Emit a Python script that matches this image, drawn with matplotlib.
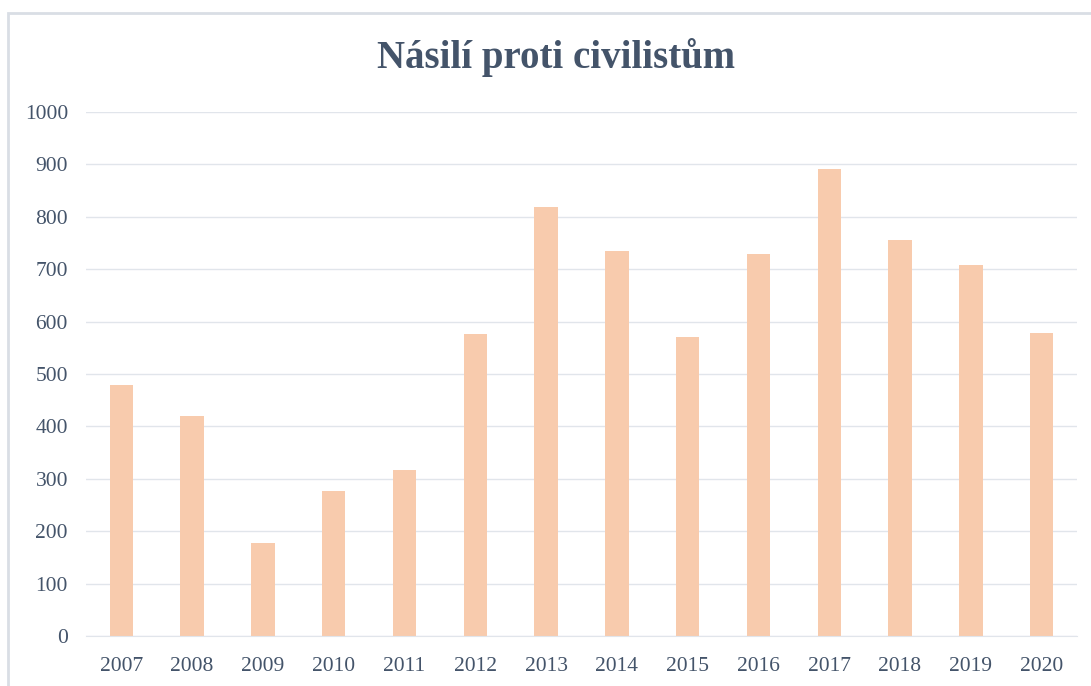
import matplotlib
matplotlib.use("Agg")
import matplotlib.pyplot as plt
from matplotlib.patches import Rectangle

years = ['2007', '2008', '2009', '2010', '2011', '2012', '2013',
         '2014', '2015', '2016', '2017', '2018', '2019', '2020']
values = [479, 420, 177, 277, 317, 576, 819, 735, 571, 729, 891, 756, 708, 578]
yticks = [0, 100, 200, 300, 400, 500, 600, 700, 800, 900, 1000]

text_color = '#44546A'
bar_color = '#F8CBAD'
grid_color = '#E1E5EB'

plt.rcParams['font.family'] = ['Liberation Serif', 'DejaVu Serif']

W, H = 1091, 686
fig = plt.figure(figsize=(W / 100, H / 100), dpi=100)
ax = fig.add_axes([86 / W, 50 / H, (1077 - 86) / W, (636 - 112) / H])

# outer chart frame (cut off at right and bottom like the screenshot)
fig.patches.append(Rectangle((8 / W, -0.05), 1.2, 1 - 13 / H + 0.05,
                             transform=fig.transFigure, fill=False,
                             edgecolor='#D9DEE5', linewidth=2))

x = range(len(years))
ax.bar(x, values, width=0.33, color=bar_color, zorder=2)

ax.set_xlim(-0.5, len(years) - 0.5)
ax.set_ylim(0, 1000)
ax.set_yticks(yticks)
ax.set_xticks(list(x))
ax.set_xticklabels(years)
ax.yaxis.grid(True, color=grid_color, linewidth=1, zorder=0)
ax.set_axisbelow(True)
for s in ax.spines.values():
    s.set_visible(False)
ax.spines['bottom'].set_visible(True)
ax.spines['bottom'].set_color(grid_color)
ax.tick_params(length=0, labelsize=15.5, labelcolor=text_color)
ax.tick_params(axis='y', pad=13)
ax.tick_params(axis='x', pad=15)

fig.text(556 / W, 1 - 58 / H, 'Násilí proti civilistům', ha='center', va='center',
         fontsize=28, fontweight='bold', color=text_color)

fig.savefig('out.png', dpi=100)
